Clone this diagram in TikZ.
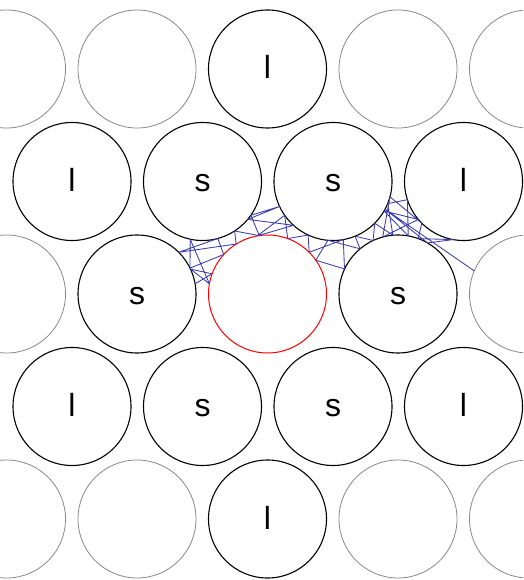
\documentclass[tikz,border=0pt]{standalone}
\usepackage{fontspec}
\setmainfont{Liberation Sans}
\definecolor{ringgray}{RGB}{135,135,135}
\definecolor{webblue}{RGB}{60,60,170}
\begin{document}
\begin{tikzpicture}[x=1pt,y=-1pt,
  ball/.style={circle,minimum size=118pt,inner sep=0pt,outer sep=0pt,
    text height=20pt,text depth=0pt,font=\fontsize{32}{32}\selectfont},
  ghostball/.style={ball,draw=ringgray,line width=0.8pt},
  blackball/.style={ball,draw=black,line width=1.1pt},
  redball/.style={ball,draw=red,line width=1pt},
  web/.style={draw=webblue,line width=0.85pt,line join=round}]
\useasboundingbox (0,0) rectangle (523,580);
\clip (0,0) rectangle (523,580);
% row 1
\node[ghostball] (r1a) at (6.5,69) {};
\node[ghostball] (r1b) at (137,69) {};
\node[blackball] (r1c) at (267.5,69) {l};
\node[ghostball] (r1d) at (398,69) {};
\node[ghostball] (r1e) at (528.5,69) {};
% row 2
\node[blackball] (r2a) at (72,181.5) {l};
\node[blackball] (r2b) at (202.5,181.5) {s};
\node[blackball] (r2c) at (333,181.5) {s};
\node[blackball] (r2d) at (463.5,181.5) {l};
% row 3
\node[ghostball] (r3a) at (6.5,294) {};
\node[blackball] (r3b) at (137,294) {s};
\node[redball] (r3c) at (267.5,294) {};
\node[blackball] (r3d) at (398,294) {s};
\node[ghostball] (r3e) at (528.5,294) {};
% row 4
\node[blackball] (r4a) at (72,406.5) {l};
\node[blackball] (r4b) at (202.5,406.5) {s};
\node[blackball] (r4c) at (333,406.5) {s};
\node[blackball] (r4d) at (463.5,406.5) {l};
% row 5
\node[ghostball] (r5a) at (6.5,519) {};
\node[ghostball] (r5b) at (137,519) {};
\node[blackball] (r5c) at (267.5,519) {l};
\node[ghostball] (r5d) at (398,519) {};
\node[ghostball] (r5e) at (528.5,519) {};
% tangled path in the gaps
\path[web] (195.1,283.8) -- (212,273.8) -- (190.5,269.1) -- (209.4,283.8)
 -- (190.2,239.2) -- (190,268.1) -- (223.7,254.5) -- (217.8,238.5)
 -- (178.7,252.3) -- (236.2,244) -- (234.6,231) -- (259.3,235.6)
 -- (250.8,215.3) -- (279.5,206.5) -- (247.7,219.4) -- (293.5,225.3)
 -- (257.2,235.9) -- (284.7,215.3) -- (287.7,238.6) -- (308.1,235)
 -- (309.2,252.3) -- (343.3,239.6) -- (344.5,269) -- (315.8,260.2)
 -- (327.9,240.3) -- (360.1,248.8) -- (355.1,236.2) -- (373.1,240.5)
 -- (374.7,223.2) -- (392.9,235.2) -- (387.7,203.6) -- (407.4,199.7)
 -- (408.2,235.9) -- (384.1,211) -- (418.3,219.4) -- (382.7,237)
 -- (390,196.8) -- (421.8,223.2) -- (418.2,238.6) -- (453.2,239.6)
 -- (427.5,242.9) -- (385.1,209.2) -- (474.2,270.9);
\end{tikzpicture}
\end{document}
